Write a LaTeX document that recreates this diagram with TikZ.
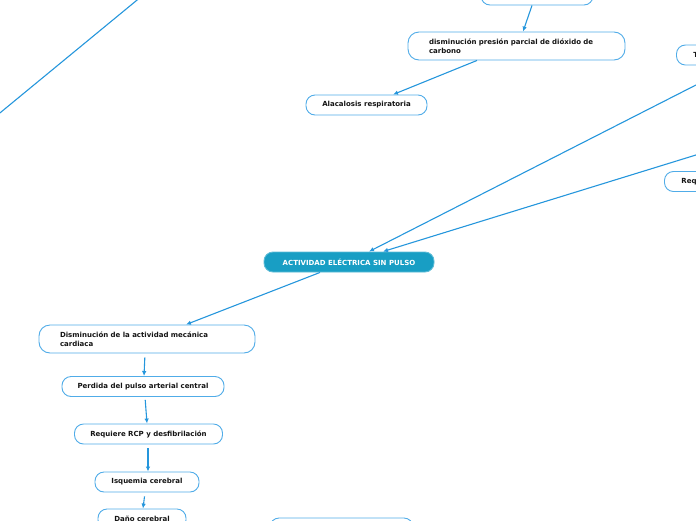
\documentclass[tikz,border=0pt]{standalone}
\usepackage{fontspec}
\setmainfont{DejaVu Sans}
\usetikzlibrary{arrows.meta}
\definecolor{conn}{RGB}{37,150,220}
\definecolor{bord}{RGB}{80,172,232}
\definecolor{ctrfill}{RGB}{24,158,196}
\definecolor{txt}{RGB}{20,20,20}
\tikzset{
  box/.style={draw=bord, line width=0.9pt, rounded corners=9pt, fill=white,
    font=\fontsize{7}{8.5}\selectfont\bfseries, text=txt, inner sep=0pt,
    minimum height=20pt},
  wide/.style={box, minimum height=28pt, rounded corners=11pt, align=left, inner xsep=21pt},
  ctrbox/.style={box, fill=ctrfill, draw=ctrfill!70!white, text=white},
  conn/.style={draw=conn, line width=1.1pt, -{Latex[length=5pt,width=4.5pt]}},
  plain/.style={draw=conn, line width=1.1pt}
}
\begin{document}
\begin{tikzpicture}[x=1pt,y=-1pt]
\useasboundingbox (0,0) rectangle (696,520);
\clip (0,0) rectangle (696,520);
% nodes
\node[box, minimum width=112pt] (top) at (537,-5) {};
\node[wide, text width=175pt, minimum width=217pt] (dis) at (516.5,46) {disminución presión parcial de dióxido de\\carbono};
\node[box, minimum width=121pt] (alc) at (366.5,105) {Alacalosis respiratoria};
\node[box, anchor=west, text width=100pt, align=left, inner xsep=17pt] (tr) at (676,55) {T};
\node[box, anchor=west, text width=100pt, align=left, inner xsep=17pt] (rq) at (664,181.5) {Req};
\node[ctrbox, minimum width=170pt] (ctr) at (349,262) {ACTIVIDAD ELÉCTRICA SIN PULSO};
\node[wide, text width=174pt, minimum width=216pt] (dm) at (147,339) {Disminución de la actividad mecánica\\cardiaca};
\node[box, minimum width=162pt] (per) at (143,386.5) {Perdida del pulso arterial central};
\node[box, minimum width=148pt] (rcp) at (148.5,434) {Requiere RCP y desfibrilación};
\node[box, minimum width=104pt] (isq) at (147,482) {Isquemia cerebral};
\node[box, minimum width=88pt] (dano) at (142,519) {Daño cerebral};
\node[box, minimum width=143pt] (bot) at (341.5,528) {};
\coordinate (tl1) at (-5,117);
\coordinate (tl2) at (142,-4);
\coordinate (r1) at (705,80.4);
\coordinate (r2) at (705,152.2);
% connectors
\draw[plain] (tl1) -- (tl2);
\draw[conn] ([xshift=-5pt]top.south) -- ([xshift=6.5pt]dis.north);
\draw[conn] ([xshift=-39.5pt]dis.south) -- ([xshift=26.5pt]alc.north);
\draw[conn] (r1) -- ([xshift=20pt]ctr.north);
\draw[conn] (r2) -- ([xshift=34pt]ctr.north);
\draw[conn] ([xshift=-29pt]ctr.south) -- ([xshift=39pt]dm.north);
\draw[conn, shorten <=4pt] ([xshift=-2pt]dm.south) -- ([xshift=1pt]per.north);
\draw[conn, shorten <=3pt] ([xshift=2pt]per.south) -- ([xshift=-1.5pt]rcp.north);
\draw[conn, shorten <=4pt] ([xshift=-0.5pt]rcp.south) -- ([xshift=1pt]isq.north);
\draw[conn, shorten <=4pt] ([xshift=-2pt]isq.south) -- ([xshift=1pt]dano.north);
\end{tikzpicture}
\end{document}
